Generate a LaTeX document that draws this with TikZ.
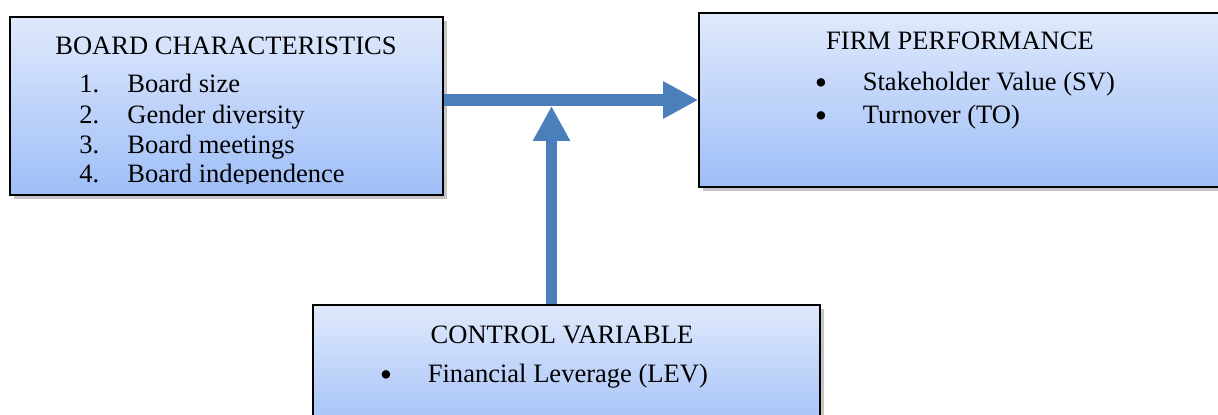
\documentclass[tikz,border=0pt]{standalone}
\usepackage{fontspec}
\setmainfont{Liberation Serif}
\usetikzlibrary{arrows.meta,shadows}

\definecolor{paneltop}{RGB}{224,233,252}
\definecolor{panelbot}{RGB}{158,190,247}
\definecolor{linkblue}{RGB}{75,127,188}

\tikzset{
  panel/.style={draw=black,line width=0.9pt,top color=paneltop,bottom color=panelbot,
    drop shadow={shadow xshift=2pt,shadow yshift=-2pt,opacity=0.45}},
  label/.style={inner sep=0pt,font=\fontsize{15.1}{18}\selectfont},
  dot/.style={inner sep=0pt,anchor=base,font=\fontsize{20}{20}\selectfont},
  link/.style={draw=linkblue,line width=6.8pt,-{Triangle[length=0.7cm,width=0.7cm]}}
}

\begin{document}
\begin{tikzpicture}[line join=miter]
  \clip (0,0) rectangle (24.36,8.28);
  \fill[white] (0,0) rectangle (24.36,8.28);
  % boxes
  \node[panel,minimum width=8.66cm,minimum height=3.56cm] (board) at (4.53,6.16) {};
  \node[panel,minimum width=10.82cm,minimum height=3.48cm] (firm) at (19.39,6.28) {};
  \node[panel,minimum width=10.14cm,minimum height=2.68cm] (control) at (11.33,0.84) {};
  % arrows
  \coordinate (join) at (11.03,6.16);
  \draw[link] (board.east |- firm.west) -- (firm.west);
  \draw[link] (join |- control.north) -- (join);
  % board text
  \node[label,anchor=base] (boardtitle) at (4.52,7.18) {BOARD CHARACTERISTICS};
  \begin{scope}
    \clip (0.2,4.6) rectangle (8.86,7.94);
    \node[label,anchor=base west] (n1) at (1.58,6.42) {1.};
    \node[label,anchor=base west] (b1) at (2.54,6.42) {Board size};
    \node[label,anchor=base west] (n2) at (1.58,5.81) {2.};
    \node[label,anchor=base west] (b2) at (2.54,5.81) {Gender diversity};
    \node[label,anchor=base west] (n3) at (1.58,5.20) {3.};
    \node[label,anchor=base west] (b3) at (2.54,5.20) {Board meetings};
    \node[label,anchor=base west] (n4) at (1.58,4.62) {4.};
    \node[label,anchor=base west] (b4) at (2.54,4.62) {Board independence};
  \end{scope}
  % firm text
  \node[label,anchor=base] (firmtitle) at (19.2,7.28) {FIRM PERFORMANCE};
  \node[dot] (d1) at (16.42,6.38) {•};
  \node[label,anchor=base west] (f1) at (17.25,6.46) {Stakeholder Value (SV)};
  \node[dot] (d2) at (16.42,5.73) {•};
  \node[label,anchor=base west] (f2) at (17.25,5.81) {Turnover (TO)};
  % control text
  \node[label,anchor=base] (controltitle) at (11.24,1.41) {CONTROL VARIABLE};
  \node[dot] (d3) at (7.72,0.55) {•};
  \node[label,anchor=base west] (c1) at (8.55,0.63) {Financial Leverage (LEV)};
\end{tikzpicture}
\end{document}
